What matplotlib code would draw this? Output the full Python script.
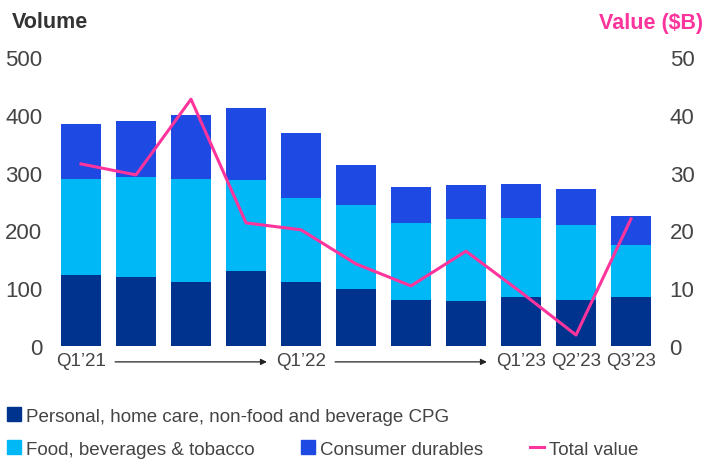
import matplotlib
matplotlib.use("Agg")
import matplotlib.pyplot as plt
import numpy as np
from matplotlib.patches import Patch
from matplotlib.lines import Line2D

plt.rcParams['font.family'] = ['Liberation Sans', 'DejaVu Sans']

quarters = ["Q1\u201921", "Q2\u201921", "Q3\u201921", "Q4\u201921",
            "Q1\u201922", "Q2\u201922", "Q3\u201922", "Q4\u201922",
            "Q1\u201923", "Q2\u201923", "Q3\u201923"]
personal = [123, 119, 111, 130, 111, 99, 80, 78, 85, 80, 85]
food = [166, 173, 178, 157, 145, 145, 133, 142, 136, 129, 90]
durables = [95, 97, 111, 125, 112, 69, 62, 59, 59, 63, 50]
total_value = [31.5, 29.6, 42.7, 21.3, 20.1, 14.2, 10.4, 16.4, 9.3, 1.9, 22.0]

shown_ticks = [0, 4, 8, 9, 10]
arrows = [(0, 4), (4, 8)]

c_personal = "#00338D"
c_food = "#00B8F5"
c_durables = "#1E49E2"
c_value = "#FD349C"
c_text = "#444444"

fig = plt.figure(figsize=(7.05, 4.6), dpi=100)
ax = fig.add_axes([53.5 / 705, 113 / 460, 605 / 705, 289 / 460])

x = np.arange(len(quarters))
p = np.array(personal)
f = np.array(food)
d = np.array(durables)
ax.bar(x, p, width=0.73, color=c_personal)
ax.bar(x, f, width=0.73, bottom=p, color=c_food)
ax.bar(x, d, width=0.73, bottom=p + f, color=c_durables)

ax.set_xlim(-0.5, len(quarters) - 0.5)
ax.set_ylim(0, 500)
ax.set_yticks(range(0, 501, 100))
ax.set_xticks(shown_ticks)
ax.set_xticklabels([quarters[i] for i in shown_ticks])
ax.tick_params(axis='y', length=0, pad=8, labelsize=16, labelcolor=c_text)
ax.tick_params(axis='x', length=0, pad=4, labelsize=13.5, labelcolor=c_text)
for s in ax.spines.values():
    s.set_visible(False)

# arrows between labelled quarters
tr = ax.get_xaxis_transform()
for a, b in arrows:
    ax.annotate("", xy=(b - 0.62, -0.055), xytext=(a + 0.62, -0.055),
                xycoords=tr, textcoords=tr,
                arrowprops=dict(arrowstyle="-|>", color="#222222", lw=0.9,
                                mutation_scale=9, shrinkA=0, shrinkB=0))

ax2 = ax.twinx()
ax2.plot(x, total_value, color=c_value, lw=2.2)
ax2.set_ylim(0, 50)
ax2.set_yticks(range(0, 51, 10))
ax2.tick_params(axis='y', length=0, pad=8, labelsize=16, labelcolor=c_text)
for s in ax2.spines.values():
    s.set_visible(False)

fig.text(12 / 705, 1 - 23 / 460, "Volume", fontsize=15.5, fontweight='bold',
         color="#333333", ha='left', va='center')
fig.text(703 / 705, 1 - 23 / 460, "Value ($B)", fontsize=15.5, fontweight='bold',
         color=c_value, ha='right', va='center')

h1 = [Patch(color=c_personal)]
h2 = [Patch(color=c_food), Patch(color=c_durables), Line2D([], [], color=c_value, lw=2.2)]
leg_kw = dict(frameon=False, fontsize=13.5, handlelength=0.75, handleheight=0.75,
              handletextpad=0.25, labelcolor=c_text, borderaxespad=0, borderpad=0)
fig.legend(h1, ["Personal, home care, non-food and beverage CPG"],
           loc='center left', bbox_to_anchor=(7 / 705, 1 - 417 / 460), **leg_kw)
fig.legend(h2, ["Food, beverages & tobacco", "Consumer durables", "Total value"],
           loc='center left', bbox_to_anchor=(7 / 705, 1 - 450 / 460), ncol=3,
           columnspacing=2.5, **leg_kw)

fig.savefig("out.png", dpi=100)
